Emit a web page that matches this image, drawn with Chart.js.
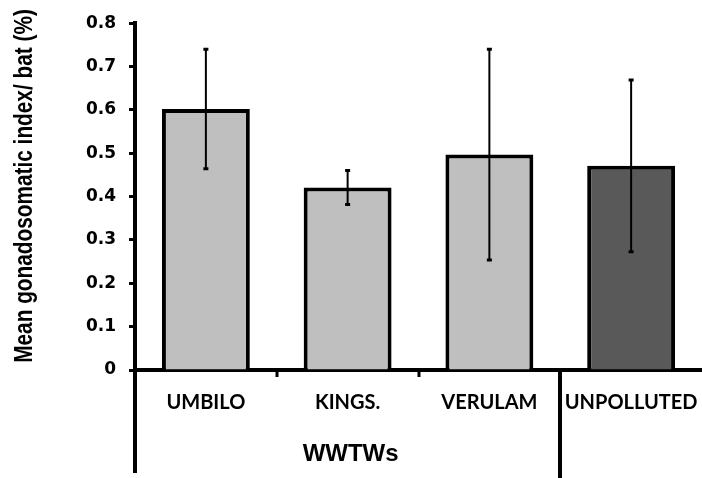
<!DOCTYPE html>
<html>
<head>
<meta charset="utf-8">
<script src="https://cdn.jsdelivr.net/npm/chart.js@4/dist/chart.umd.min.js"></script>
<style>
  html, body { margin: 0; padding: 0; background: #fff; }
  #wrap { width: 702px; height: 478px; }
</style>
</head>
<body>
<div id="wrap"><canvas id="gsiChart"></canvas></div>
<script>
// ===== data =====
const sites      = ['UMBILO', 'KINGS.', 'VERULAM', 'UNPOLLUTED'];
const meanGsi    = [0.602, 0.421, 0.497, 0.471];
const errGsi     = [0.138, 0.039, 0.243, 0.198];
const barColours = ['#bfbfbf', '#bfbfbf', '#bfbfbf', '#595959'];
const groupLabel = 'WWTWs';
const groupCount = 3;            // first 3 sites belong to the WWTWs group
const yTitle = 'Mean gonadosomatic index/ bat (%)';
const yMin = 0, yMax = 0.8, yStep = 0.1;

// ===== error bars + grouped category axis + y title =====
const extras = {
  id: 'extras',
  afterDatasetsDraw(chart) {
    const ctx = chart.ctx;
    const y = chart.scales.y;
    const bars = chart.getDatasetMeta(0).data;
    ctx.save();
    ctx.strokeStyle = '#000';
    bars.forEach((b, i) => {
      const top = y.getPixelForValue(meanGsi[i] + errGsi[i]);
      const bot = y.getPixelForValue(meanGsi[i] - errGsi[i]);
      ctx.lineWidth = 2;
      ctx.beginPath();
      ctx.moveTo(b.x, top); ctx.lineTo(b.x, bot);
      ctx.stroke();
      ctx.lineWidth = 3;
      ctx.beginPath();
      ctx.moveTo(b.x - 2.5, top); ctx.lineTo(b.x + 2.5, top);
      ctx.moveTo(b.x - 2.5, bot); ctx.lineTo(b.x + 2.5, bot);
      ctx.stroke();
    });
    ctx.restore();
  },
  afterDraw(chart) {
    const ctx = chart.ctx;
    const area = chart.chartArea;
    const H = chart.height;
    const catW = (area.right - area.left) / sites.length;
    ctx.save();
    ctx.strokeStyle = '#000';
    // y axis runs on below the category axis
    ctx.lineWidth = 4;
    ctx.beginPath();
    ctx.moveTo(area.left, area.bottom); ctx.lineTo(area.left, H - 5);
    ctx.stroke();
    // short ticks between categories, long separator after the group
    for (let k = 1; k < sites.length; k++) {
      const px = Math.round(area.left + k * catW);
      ctx.beginPath();
      if (k === groupCount) {
        ctx.lineWidth = 4;
        ctx.moveTo(px, area.bottom); ctx.lineTo(px, H);
      } else {
        ctx.lineWidth = 3;
        ctx.moveTo(px, area.bottom); ctx.lineTo(px, area.bottom + 7);
      }
      ctx.stroke();
    }
    // group label
    ctx.fillStyle = '#000';
    ctx.font = 'bold 24px "Liberation Sans", Arial, sans-serif';
    ctx.textAlign = 'center';
    ctx.textBaseline = 'alphabetic';
    const gx = (area.left + (area.left + groupCount * catW)) / 2 + 3;
    ctx.fillText(groupLabel, gx, 461);
    // y axis title, rotated and slightly condensed
    ctx.translate(25, 186);
    ctx.rotate(-Math.PI / 2);
    ctx.scale(0.8, 1);
    ctx.font = 'bold 26px "Liberation Sans", Arial, sans-serif';
    ctx.textBaseline = 'middle';
    ctx.fillText(yTitle, 0, 0);
    ctx.restore();
  }
};

new Chart(document.getElementById('gsiChart'), {
  type: 'bar',
  data: {
    labels: sites,
    datasets: [{
      data: meanGsi,
      backgroundColor: barColours,
      borderColor: '#000',
      borderWidth: 4,
      barPercentage: 0.62,
      categoryPercentage: 1
    }]
  },
  options: {
    responsive: true,
    maintainAspectRatio: false,
    animation: false,
    layout: { padding: { top: 22, right: 0, bottom: 0, left: 0 } },
    plugins: { legend: { display: false }, tooltip: { enabled: false } },
    scales: {
      x: {
        grid: { display: false },
        border: { color: '#000', width: 4 },
        ticks: {
          color: '#000',
          font: { family: 'Lato', weight: 'bold', size: 20 },
          padding: 13,
          maxRotation: 0,
          autoSkip: false
        },
        afterFit: (s) => { s.height = 108; s.paddingRight = 0; s.paddingLeft = 0; }
      },
      y: {
        min: yMin,
        max: yMax,
        grid: {
          drawOnChartArea: false,
          drawTicks: true,
          tickLength: 6,
          tickWidth: 3,
          color: '#000'
        },
        border: { color: '#000', width: 4 },
        ticks: {
          stepSize: yStep,
          color: '#000',
          padding: 13,
          font: { family: '"DejaVu Sans"', weight: 'bold', size: 17 },
          callback: (v) => String(Number(v.toFixed(1)))
        },
        afterFit: (s) => { s.width = 135; }
      }
    }
  },
  plugins: [extras]
});
</script>
</body>
</html>
